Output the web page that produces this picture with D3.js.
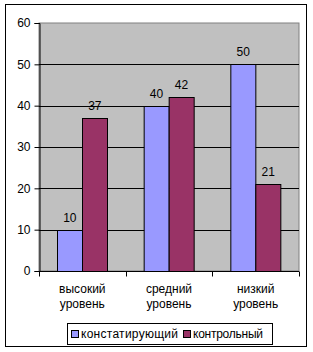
<!DOCTYPE html>
<html>
<head>
<meta charset="utf-8">
<script src="https://cdn.jsdelivr.net/npm/d3@7"></script>
<style>
  body { margin: 0; background: #fff; }
  text { font-family: "Liberation Sans", Arial, sans-serif; }
</style>
</head>
<body>
<div class="chart"></div>
<script>
var categories = [["высокий", "уровень"], ["средний", "уровень"], ["низкий", "уровень"]];
var seriesNames = ["констатирующий", "контрольный"];
var seriesColors = ["#9999ff", "#993366"];
var stating = [10, 40, 50];
var control = [37, 42, 21];
var yTicks = [0, 10, 20, 30, 40, 50, 60];

var W = 313, H = 352;
var margin = { top: 23, right: 14, bottom: 81, left: 39 },
    width = 299 - margin.left,
    height = 271 - margin.top;

var svg = d3.select(".chart").append("svg")
    .attr("width", W)
    .attr("height", H);

// outer frame
svg.append("rect")
    .attr("x", 5.5).attr("y", 4.5)
    .attr("width", 301).attr("height", 342)
    .attr("fill", "#fff").attr("stroke", "#000");

var g = svg.append("g")
    .attr("transform", "translate(" + margin.left + "," + margin.top + ")");

var x = d3.scaleBand().domain(d3.range(categories.length)).range([0, width]);
var x1 = d3.scaleBand().domain(d3.range(seriesNames.length))
    .range([x.bandwidth() / 2 - 25, x.bandwidth() / 2 + 25]);
var y = d3.scaleLinear().domain([0, 60]).range([height, 0]);

// plot area
g.append("rect")
    .attr("width", width).attr("height", height)
    .attr("fill", "#c0c0c0").attr("stroke", "#808080");

// gridlines
g.selectAll(".grid").data(yTicks.slice(1, -1))
    .enter().append("line")
    .attr("x1", 0).attr("x2", width)
    .attr("y1", function (d) { return Math.round(y(d)) + 0.5; })
    .attr("y2", function (d) { return Math.round(y(d)) + 0.5; })
    .attr("stroke", "#000");

var data = categories.map(function (c, i) { return [stating[i], control[i]]; });

var groups = g.selectAll(".grp").data(data)
    .enter().append("g")
    .attr("transform", function (d, i) { return "translate(" + x(i) + ",0)"; });

groups.selectAll("rect").data(function (d) { return d; })
    .enter().append("rect")
    .attr("x", function (d, j) { return Math.round(x1(j)) + 0.5; })
    .attr("y", function (d) { return Math.round(y(d)) + 0.5; })
    .attr("width", x1.bandwidth())
    .attr("height", function (d) { return Math.round(height - y(d)); })
    .attr("fill", function (d, j) { return seriesColors[j]; })
    .attr("stroke", "#000");

groups.selectAll(".val").data(function (d) { return d; })
    .enter().append("text")
    .attr("x", function (d, j) { return x1(j) + x1.bandwidth() / 2; })
    .attr("y", function (d) { return y(d) - 8; })
    .attr("text-anchor", "middle")
    .style("font-size", "12px")
    .text(function (d) { return d; });

// y axis
var yAxis = g.append("g")
    .attr("transform", "translate(0.5,0)")
    .call(d3.axisLeft(y).tickValues(yTicks).tickSize(5).tickPadding(4));
yAxis.select(".domain").attr("stroke", "#000");
yAxis.selectAll("text").style("font-size", "12px").attr("fill", "#000")
    .style("font-family", "Liberation Sans, Arial, sans-serif");

// x axis
var xb = g.append("g").attr("transform", "translate(0," + (height + 0.5) + ")");
xb.append("line").attr("x1", 0).attr("x2", width).attr("stroke", "#000");
xb.selectAll(".tk").data(d3.range(categories.length + 1))
    .enter().append("line")
    .attr("x1", function (i) { return Math.round(i * x.step()) + 0.5; })
    .attr("x2", function (i) { return Math.round(i * x.step()) + 0.5; })
    .attr("y1", 0).attr("y2", 5)
    .attr("stroke", "#000");
xb.selectAll(".lbl").data(categories)
    .enter().append("text")
    .attr("x", function (d, i) { return x(i) + x.bandwidth() / 2; })
    .attr("y", 21)
    .attr("text-anchor", "middle")
    .style("font-size", "12px")
    .selectAll("tspan").data(function (d) { return d; })
    .enter().append("tspan")
    .attr("x", function () { return d3.select(this.parentNode).attr("x"); })
    .attr("dy", function (d, k) { return k ? 15 : 0; })
    .text(function (d) { return d; });

// legend
var legend = svg.append("g");
legend.append("rect")
    .attr("x", 67.5).attr("y", 323.5)
    .attr("width", 205).attr("height", 21)
    .attr("fill", "#fff").attr("stroke", "#000");
var lx = [71, 183];
var lw = [97, 70];
seriesNames.forEach(function (s, i) {
    legend.append("rect")
        .attr("x", lx[i] + 0.5).attr("y", 330.5)
        .attr("width", 7).attr("height", 7)
        .attr("fill", seriesColors[i]).attr("stroke", "#000");
    legend.append("text")
        .attr("x", lx[i] + 10).attr("y", 338)
        .attr("textLength", lw[i])
        .attr("lengthAdjust", "spacing")
        .style("font-size", "12px")
        .text(s);
});
</script>
</body>
</html>
